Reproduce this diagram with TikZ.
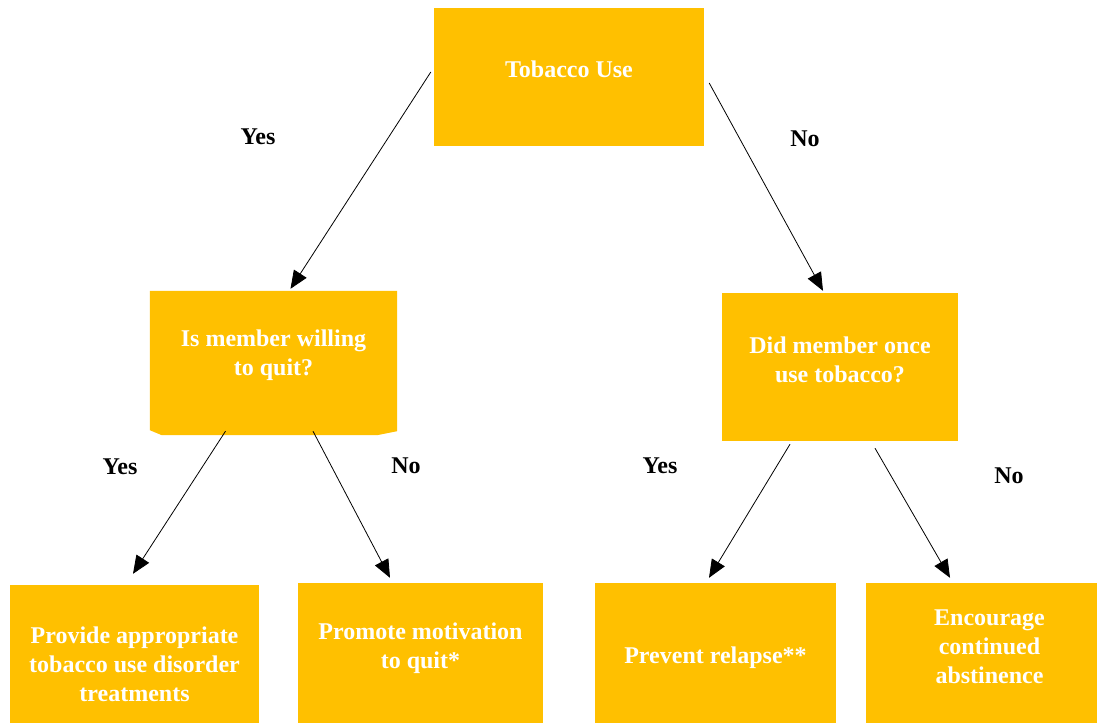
\documentclass[tikz,border=0pt]{standalone}
\usepackage{fontspec}
\setmainfont{Liberation Serif}
\usetikzlibrary{arrows.meta,backgrounds}
\definecolor{amber}{HTML}{FFC000}

\begin{document}
\begin{tikzpicture}[x=1pt,y=-1pt,
        box/.style={fill=amber, inner sep=0pt},
        boxtext/.style={text=white, font=\bfseries\fontsize{24}{29}\selectfont, align=center},
        answer/.style={font=\bfseries\fontsize{24}{28}\selectfont},
        link/.style={-{Triangle[length=18pt,width=15pt]}, line width=0.8pt}]
        \useasboundingbox (0,0) rectangle (1097,723);

        % decision boxes
        \node[box, minimum width=270pt, minimum height=138pt,
              label={[boxtext,yshift=8pt]center:Tobacco Use}] (tobacco) at (569,77) {};
        \node[inner sep=0pt, minimum width=247pt, minimum height=144pt,
              label={[boxtext,yshift=8pt]center:Is member willing\\to quit?}] (willing) at (273.5,363) {};
        \node[box, minimum width=236pt, minimum height=148pt,
              label={[boxtext,yshift=7pt]center:Did member once\\use tobacco?}] (once) at (840,367) {};

        \begin{scope}[on background layer]
            \fill[amber] (willing.north west) -- (willing.north east) -- ([yshift=4pt]willing.south east)
                -- ([xshift=-20pt]willing.south east) -- ([xshift=12pt]willing.south west)
                -- ([yshift=5pt]willing.south west) -- cycle;
        \end{scope}

        % outcome boxes
        \node[box, minimum width=249pt, minimum height=138pt,
              label={[boxtext,yshift=-10pt]center:Provide appropriate\\tobacco use disorder\\treatments}] (treat) at (134.5,654) {};
        \node[box, minimum width=245pt, minimum height=140pt,
              label={[boxtext,yshift=5pt]center:Promote motivation\\to quit*}] (motivate) at (420.5,653) {};
        \node[box, minimum width=241pt, minimum height=140pt,
              label={[boxtext,yshift=-5pt]center:Prevent relapse**}] (relapse) at (715.5,653) {};
        \node[box, minimum width=231pt, minimum height=140pt,
              label={[boxtext,xshift=8pt,yshift=6pt]center:Encourage\\continued\\abstinence}] (abstain) at (981.5,653) {};

        % answers
        \node[answer] (yesa) at (258,137) {Yes};
        \node[answer] (noa) at (805,139) {No};
        \node[answer] (yesb) at (120,467) {Yes};
        \node[answer] (nob) at (406,466) {No};
        \node[answer] (yesc) at (660,466) {Yes};
        \node[answer] (noc) at (1009,476) {No};

        % arrows
        \draw[link] ([xshift=-3pt,yshift=5pt]tobacco.west) -- ([xshift=17pt,yshift=2pt]willing.north);
        \draw[link] ([xshift=5pt,yshift=-6pt]tobacco.east) -- ([xshift=-17pt,yshift=2pt]once.north);
        \draw[link] ([xshift=-48pt,yshift=4pt]willing.south) -- ([xshift=-1.5pt,yshift=11pt]treat.north);
        \draw[link] ([xshift=39.5pt,yshift=4pt]willing.south) -- ([xshift=-30.5pt,yshift=5pt]motivate.north);
        \draw[link] ([xshift=-50pt,yshift=-3pt]once.south) -- ([xshift=-6.5pt,yshift=5pt]relapse.north);
        \draw[link] ([xshift=35pt,yshift=-7pt]once.south) -- ([xshift=-31.5pt,yshift=5pt]abstain.north);
\end{tikzpicture}
\end{document}
